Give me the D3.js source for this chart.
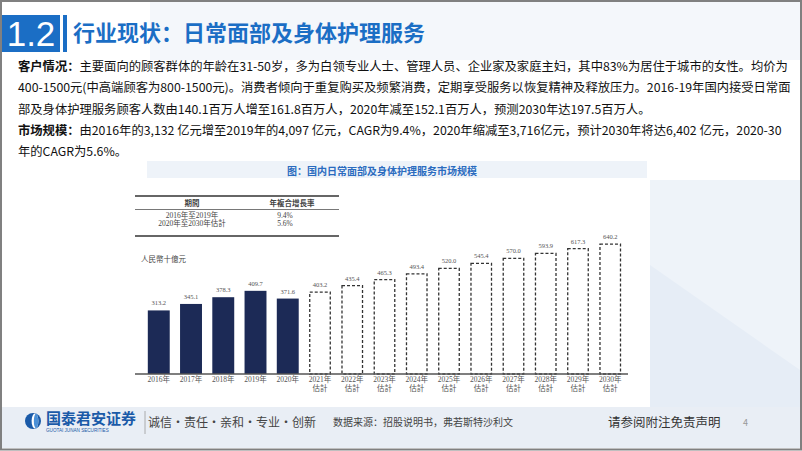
<!DOCTYPE html>
<html>
<head>
<meta charset="utf-8">
<script src="https://cdn.jsdelivr.net/npm/d3@7"></script>
<style>
  body { margin: 0; background: #fff; }
  svg { display: block; }
</style>
</head>
<body>
<div id="vis"></div>
<script>
// market size, RMB bn
const years = ["2016年", "2017年", "2018年", "2019年", "2020年", "2021年", "2022年", "2023年",
  "2024年", "2025年", "2026年", "2027年", "2028年", "2029年", "2030年"];
const values = [313.2, 345.1, 378.3, 409.7, 371.6, 403.2, 435.4, 465.3, 493.4, 520.0, 545.4, 570.0, 593.9, 617.3, 640.2];
const isEstimate = [false, false, false, false, false, true, true, true, true, true, true, true, true, true, true];

const cagrPeriods = ["2016年至2019年", "2020年至2030年估計"];
const cagrRates = ["9.4%", "5.6%"];

const bodyLines = [
  ["客户情况：", "主要面向的顾客群体的年龄在31-50岁，多为白领专业人士、管理人员、企业家及家庭主妇，其中83%为居住于城市的女性。均价为"],
  ["", "400-1500元(中高端顾客为800-1500元)。消费者倾向于重复购买及频繁消费，定期享受服务以恢复精神及释放压力。2016-19年国内接受日常面"],
  ["", "部及身体护理服务顾客人数由140.1百万人增至161.8百万人，2020年减至152.1百万人，预测2030年达197.5百万人。"],
  ["市场规模：", "由2016年的3,132 亿元增至2019年的4,097 亿元，CAGR为9.4%，2020年缩减至3,716亿元，预计2030年将达6,402 亿元，2020-30"],
  ["", "年的CAGR为5.6%。"]
];

const W = 802, H = 451;
const sans = "'Noto Sans CJK SC', 'Noto Sans', sans-serif";
const serif = "'Liberation Serif', 'Noto Sans CJK TC', serif";
const blue = "#1b6ec5";

const svg = d3.select("#vis").append("svg").attr("width", W).attr("height", H);

// slide background
svg.append("rect").attr("width", W).attr("height", H).attr("fill", "#ffffff");
svg.append("polygon").attr("points", "150,2 800,2 800,60 150,60").attr("fill", "#f4f7fb");
svg.append("polygon").attr("points", "650,180 800,180 800,410 650,410").attr("fill", "#eef3f9");
svg.append("polygon").attr("points", "650,265 800,370 800,410 650,410").attr("fill", "#e6edf6");
svg.append("rect").attr("x", 2).attr("y", 407).attr("width", W - 4).attr("height", 41).attr("fill", "#e9eef5");

// header
svg.append("rect").attr("x", 2).attr("y", 15).attr("width", 58).attr("height", 37).attr("fill", blue);
svg.append("rect").attr("x", 63).attr("y", 15).attr("width", 4).attr("height", 37).attr("fill", blue);
svg.append("text").attr("x", 31).attr("y", 46).attr("text-anchor", "middle")
  .style("font-family", "'Liberation Sans', Arial, sans-serif").style("font-size", "35px")
  .attr("fill", "#fff").text("1.2");
svg.append("text").attr("x", 73).attr("y", 41)
  .style("font-family", sans).style("font-size", "22px").style("font-weight", "bold")
  .attr("fill", blue).text("行业现状：日常面部及身体护理服务");

// body text
const body = svg.append("g").style("font-family", sans).style("font-size", "12.3px").attr("fill", "#111");
bodyLines.forEach((ln, i) => {
  const t = body.append("text").attr("x", 18).attr("y", 71 + i * 21.3);
  if (ln[0]) t.append("tspan").style("font-weight", "bold").text(ln[0]);
  t.append("tspan").text(ln[1]);
});

// chart caption band
svg.append("rect").attr("x", 147).attr("y", 161).attr("width", 500).attr("height", 17).attr("fill", "#eef3f9");
svg.append("text").attr("x", 382).attr("y", 175).attr("text-anchor", "middle")
  .style("font-family", sans).style("font-size", "10px").style("font-weight", "bold")
  .attr("fill", "#2a6bbf").text("图：国内日常面部及身体护理服务市场规模");

svg.append("rect").attr("x", 130).attr("y", 180).attr("width", 520).attr("height", 225).attr("fill", "#fff");

// CAGR table
const tbl = svg.append("g").style("font-family", serif).style("font-size", "7.5px").attr("fill", "#444");
const tx0 = 135, tx1 = 339;
tbl.append("line").attr("x1", tx0).attr("x2", tx1).attr("y1", 196).attr("y2", 196).attr("stroke", "#333").attr("stroke-width", 1.4);
tbl.append("line").attr("x1", tx0).attr("x2", tx1).attr("y1", 209.5).attr("y2", 209.5).attr("stroke", "#555").attr("stroke-width", 0.8);
tbl.append("line").attr("x1", tx0).attr("x2", tx1).attr("y1", 236).attr("y2", 236).attr("stroke", "#333").attr("stroke-width", 1.4);
tbl.append("text").attr("x", 192).attr("y", 206).attr("text-anchor", "middle").style("font-weight", "bold").text("期間");
tbl.append("text").attr("x", 292).attr("y", 206).attr("text-anchor", "middle").style("font-weight", "bold").text("年複合增長率");
cagrPeriods.forEach((p, i) => {
  tbl.append("text").attr("x", 192).attr("y", 218 + i * 7.5).attr("text-anchor", "middle").text(p);
  tbl.append("text").attr("x", 285).attr("y", 218 + i * 7.5).attr("text-anchor", "middle").text(cagrRates[i]);
});
svg.append("text").attr("x", 141).attr("y", 262).style("font-family", serif).style("font-size", "7.5px")
  .attr("fill", "#444").text("人民幣十億元");

// bars
const x = d3.scaleBand().domain(years).range([142, 627]).paddingInner(0.32).paddingOuter(0.18);
const y = d3.scaleLinear().domain([0, 700]).range([374, 374 - 142.1]);
const fmt = d3.format(".1f");

const bars = svg.append("g").selectAll("g.bar").data(years).enter().append("g").attr("class", "bar");
bars.append("rect")
  .attr("x", (d, i) => x(d) + (isEstimate[i] ? 0.7 : 0))
  .attr("y", (d, i) => y(values[i]))
  .attr("width", (d, i) => x.bandwidth() - (isEstimate[i] ? 1.4 : 0))
  .attr("height", (d, i) => y(0) - y(values[i]))
  .attr("fill", (d, i) => isEstimate[i] ? "none" : "#1c2a56")
  .attr("stroke", (d, i) => isEstimate[i] ? "#333" : "none")
  .attr("stroke-width", 1.3)
  .attr("stroke-dasharray", "3,2");
bars.append("text")
  .attr("x", d => x(d) + x.bandwidth() / 2)
  .attr("y", (d, i) => y(values[i]) - 5)
  .attr("text-anchor", "middle")
  .style("font-family", serif).style("font-size", "6.5px").attr("fill", "#555")
  .text((d, i) => fmt(values[i]));

// axis
const xAxis = d3.axisBottom(x).tickSize(0).tickPadding(3);
const axisG = svg.append("g").attr("transform", "translate(0,374)").call(xAxis);
axisG.select(".domain").attr("d", "M135,0H628").attr("stroke", "#555").attr("stroke-width", 1.5);
axisG.selectAll(".tick text").style("font-family", serif).style("font-size", "7.5px").attr("fill", "#555");
axisG.selectAll(".tick").filter((d, i) => isEstimate[i]).append("text")
  .attr("y", 12).attr("dy", "0.71em").attr("text-anchor", "middle")
  .style("font-family", serif).style("font-size", "7.5px").attr("fill", "#555").text("估計");

// footer
const logo = svg.append("g").attr("transform", "translate(33,421)");
logo.append("circle").attr("r", 8).attr("fill", "#1a5aa8");
logo.append("ellipse").attr("cx", 2).attr("rx", 3.4).attr("ry", 7.5).attr("fill", "#fff");
logo.append("ellipse").attr("cx", 3).attr("rx", 2.2).attr("ry", 7.2).attr("fill", "#4a8fd6");
svg.append("text").attr("x", 46).attr("y", 424).style("font-family", sans).style("font-size", "15px")
  .style("font-weight", "bold").attr("fill", "#1a5aa8").text("国泰君安证券");
svg.append("text").attr("x", 46).attr("y", 432).style("font-family", "'Liberation Sans', sans-serif").style("font-size", "4.6px")
  .attr("fill", "#1a5aa8").text("GUOTAI JUNAN SECURITIES");
svg.append("line").attr("x1", 145).attr("x2", 145).attr("y1", 411).attr("y2", 434).attr("stroke", "#999").attr("stroke-width", 0.8);
svg.append("text").attr("x", 148).attr("y", 427).style("font-family", sans).style("font-size", "12px")
  .attr("fill", "#444").text("诚信·责任·亲和·专业·创新");
svg.append("text").attr("x", 333).attr("y", 426).style("font-family", sans).style("font-size", "10px")
  .attr("fill", "#444").text("数据来源：招股说明书，弗若斯特沙利文");
svg.append("text").attr("x", 608).attr("y", 427).style("font-family", sans).style("font-size", "12.5px")
  .attr("fill", "#333").text("请参阅附注免责声明");
svg.append("text").attr("x", 743).attr("y", 426).style("font-family", sans).style("font-size", "9px")
  .attr("fill", "#999").text("4");

// frame
svg.append("rect").attr("x", 1).attr("y", 1).attr("width", W - 2).attr("height", H - 2.5)
  .attr("fill", "none").attr("stroke", "#808080").attr("stroke-width", 2);
</script>
</body>
</html>
